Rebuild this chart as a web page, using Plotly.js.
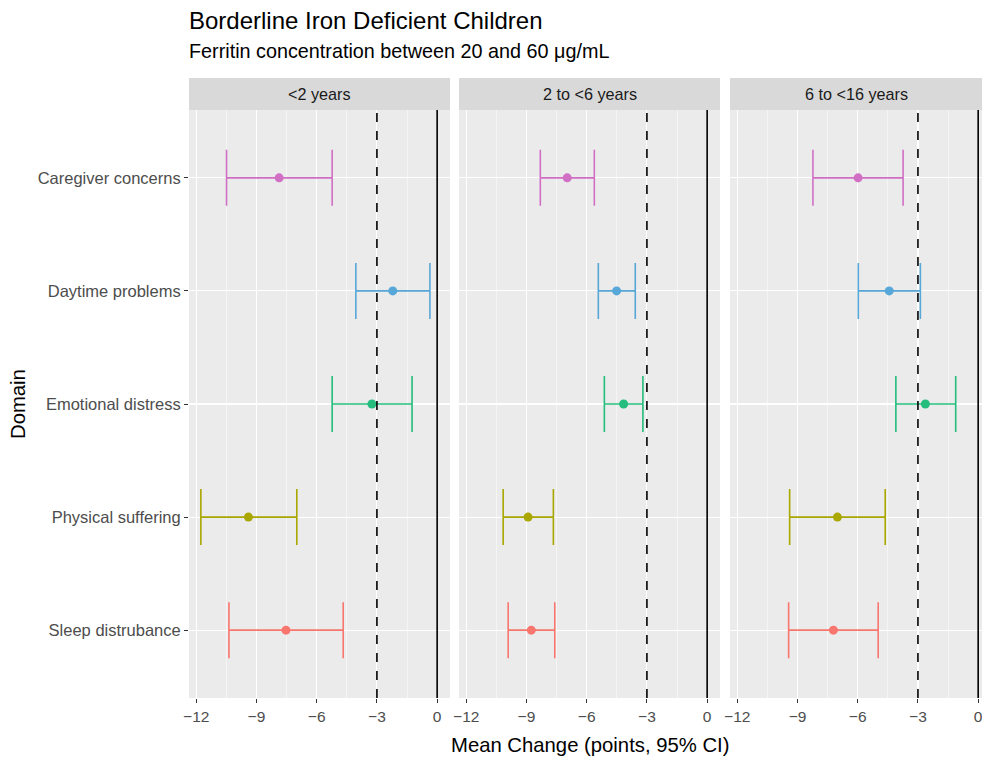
<!DOCTYPE html>
<html>
<head>
<meta charset="utf-8">
<script src="https://cdn.plot.ly/plotly-3.0.1.min.js"></script>
<style>html,body{margin:0;padding:0;background:#fff;}#chart{width:982px;height:757px;}</style>
</head>
<body>
<div id="chart"></div>
<script>
// ---- data ----
const domains = ["Caregiver concerns", "Daytime problems", "Emotional distress", "Physical suffering", "Sleep distrubance"];
const domainColors = ["#D16FC4", "#57A7D8", "#24BD7D", "#A9A700", "#F8766D"];
const panels = ["&lt;2 years", "2 to &lt;6 years", "6 to &lt;16 years"];

const meanLt2   = [-7.87, -2.21, -3.25, -9.40, -7.53];
const lowerLt2  = [-10.49, -4.05, -5.23, -11.77, -10.37];
const upperLt2  = [-5.23, -0.36, -1.25, -6.99, -4.68];

const mean2to6  = [-6.97, -4.51, -4.16, -8.92, -8.76];
const lower2to6 = [-8.31, -5.42, -5.12, -10.16, -9.91];
const upper2to6 = [-5.62, -3.58, -3.20, -7.66, -7.59];

const mean6to16  = [-5.98, -4.43, -2.63, -7.01, -7.21];
const lower6to16 = [-8.23, -5.97, -4.10, -9.39, -9.44];
const upper6to16 = [-3.74, -2.88, -1.12, -4.63, -4.98];

const xTicks = [-12, -9, -6, -3, 0];
const thresholdLine = -3;
const zeroLine = 0;

// ---- build ----
const W = 982, H = 757;
const panelData = [
  {mean: meanLt2, lower: lowerLt2, upper: upperLt2},
  {mean: mean2to6, lower: lower2to6, upper: upper2to6},
  {mean: mean6to16, lower: lower6to16, upper: upper6to16}
];
const panelPx = [[189, 450], [459, 720], [730, 982]];
const xRanges = [[-12.36, 0.64], [-12.36, 0.64], [-12.36, 0.19]];
const plotTop = 110, plotBottom = 698, stripTop = 78;
const font = "Liberation Sans, Arial, Helvetica, sans-serif";

const traces = [];
panelData.forEach((p, pi) => {
  const xa = pi === 0 ? "x" : "x" + (pi + 1);
  domains.forEach((d, di) => {
    traces.push({
      type: "scatter", mode: "markers",
      x: [p.mean[di]], y: [d],
      xaxis: xa, yaxis: "y",
      marker: {color: domainColors[di], size: 9},
      error_x: {
        type: "data", symmetric: false,
        array: [p.upper[di] - p.mean[di]],
        arrayminus: [p.mean[di] - p.lower[di]],
        color: domainColors[di], thickness: 1.6, width: 28
      },
      showlegend: false, hoverinfo: "skip"
    });
  });
});

const layout = {
  width: W, height: H,
  margin: {l: 0, r: 0, t: 0, b: 0},
  paper_bgcolor: "#FFFFFF",
  plot_bgcolor: "#EBEBEB",
  font: {family: font, color: "#4D4D4D"},
  showlegend: false,
  shapes: [],
  annotations: []
};

const yDomain = [1 - plotBottom / H, 1 - plotTop / H];
layout.yaxis = {
  domain: yDomain,
  type: "category",
  categoryorder: "array",
  categoryarray: domains.slice().reverse(),
  range: [-0.6, domains.length - 0.4],
  showgrid: true, gridcolor: "#FFFFFF", gridwidth: 1.1,
  zeroline: false, showline: false,
  ticks: "outside", ticklen: 4, tickcolor: "#333333", tickwidth: 1,
  tickfont: {family: font, size: 16.5, color: "#4D4D4D"},
  fixedrange: true
};

panelPx.forEach((px, pi) => {
  const key = pi === 0 ? "xaxis" : "xaxis" + (pi + 1);
  const xa = pi === 0 ? "x" : "x" + (pi + 1);
  layout[key] = {
    domain: [px[0] / W, px[1] / W],
    anchor: "y",
    range: xRanges[pi],
    tickvals: xTicks,
    ticktext: xTicks.map(v => v < 0 ? "\u2212" + Math.abs(v) : String(v)),
    ticklabeloverflow: "allow",
    showgrid: true, gridcolor: "#FFFFFF", gridwidth: 1.1,
    minor: {dtick: 1.5, tick0: 0, showgrid: true, gridcolor: "#FFFFFF", gridwidth: 0.5, ticks: ""},
    zeroline: false, showline: false,
    ticks: "outside", ticklen: 4, tickcolor: "#333333", tickwidth: 1,
    tickfont: {family: font, size: 15.5, color: "#4D4D4D"},
    fixedrange: true
  };
  // reference lines
  layout.shapes.push({type: "line", xref: xa, yref: "y domain", x0: thresholdLine, x1: thresholdLine, y0: 0, y1: 1,
    line: {color: "#000000", width: 1.6, dash: "dash"}});
  layout.shapes.push({type: "line", xref: xa, yref: "y domain", x0: zeroLine, x1: zeroLine, y0: 0, y1: 1,
    line: {color: "#000000", width: 1.6}});
  // strip
  layout.shapes.push({type: "rect", xref: "paper", yref: "paper",
    x0: px[0] / W, x1: px[1] / W, y0: 1 - plotTop / H, y1: 1 - stripTop / H,
    fillcolor: "#D9D9D9", line: {width: 0}, layer: "below"});
  layout.annotations.push({xref: "paper", yref: "paper",
    x: (px[0] + px[1]) / 2 / W, y: 1 - ((plotTop + stripTop) / 2) / H,
    text: panels[pi], showarrow: false, xanchor: "center", yanchor: "middle",
    font: {family: font, size: 16.2, color: "#1A1A1A"}});
});

// x axis title (shared)
layout.annotations.push({xref: "paper", yref: "paper", x: 590 / W, y: 1 - 745 / H,
  text: "Mean Change (points, 95% CI)", showarrow: false, xanchor: "center", yanchor: "middle",
  font: {family: font, size: 20.3, color: "#000000"}});
// y axis title
layout.annotations.push({xref: "paper", yref: "paper", x: 18 / W, y: 1 - 404 / H,
  text: "Domain", showarrow: false, xanchor: "center", yanchor: "middle", textangle: -90,
  font: {family: font, size: 20.3, color: "#000000"}});
// title & subtitle
layout.annotations.push({xref: "paper", yref: "paper", x: 187 / W, y: 1 - 20 / H,
  text: "Borderline Iron Deficient Children", showarrow: false, xanchor: "left", yanchor: "middle",
  font: {family: font, size: 24, color: "#000000"}});
layout.annotations.push({xref: "paper", yref: "paper", x: 187 / W, y: 1 - 51 / H,
  text: "Ferritin concentration between 20 and 60 \u03bcg/mL", showarrow: false, xanchor: "left", yanchor: "middle",
  font: {family: font, size: 19.8, color: "#000000"}});

Plotly.newPlot("chart", traces, layout, {staticPlot: true, displayModeBar: false});
</script>
</body>
</html>
